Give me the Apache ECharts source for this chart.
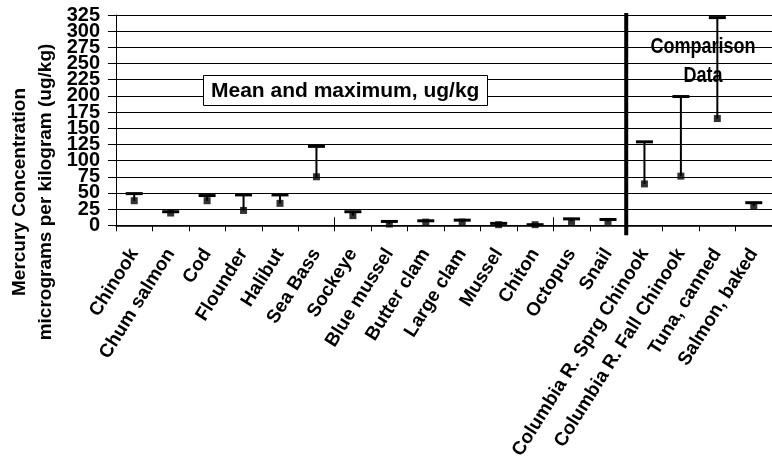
<!DOCTYPE html>
<html>
<head>
<meta charset="utf-8">
<script src="https://cdn.jsdelivr.net/npm/echarts@6/dist/echarts.min.js"></script>
<style>html,body{margin:0;padding:0;background:#fff}#c{width:772px;height:462px}</style>
</head>
<body>
<div id="c"></div>
<script>
const categories = ['Chinook','Chum salmon','Cod','Flounder','Halibut','Sea Bass','Sockeye','Blue mussel','Butter clam','Large clam','Mussel','Chiton','Octopus','Snail','Columbia R. Sprg Chinook','Columbia R. Fall Chinook','Tuna, canned','Salmon, baked'];
const meanValues = [38, 19, 38, 23, 34, 75, 15, 2, 5, 5, 1, 1, 6, 6, 64, 76, 165, 30];
const maxValues  = [49, 21, 46, 47, 47, 122, 21, 6, 7, 8, 3, 1, 10, 9, 129, 199, 321, 35];
const yTicks = {min: 0, max: 325, interval: 25};
const dividerAfterIndex = 13; // boundary between field data and comparison data

const FONT = '"Liberation Sans", Arial, sans-serif';
const chart = echarts.init(document.getElementById('c'), null, {renderer: 'canvas'});

const errData = categories.map((c, i) => [i, meanValues[i], maxValues[i]]);
const meanData = categories.map((c, i) => [i, meanValues[i]]);

// Two label layers on the same value axis so that the tightly packed
// tick labels are not dropped by overlap handling.
function yLabelLayer(parity) {
  return function (v) {
    return (Math.round(v / yTicks.interval) % 2 === parity) ? String(v) : '';
  };
}
const yLabelStyle = {margin: 16, color: '#000', fontFamily: FONT, fontWeight: 'bold', fontSize: 20,
  showMinLabel: true, showMaxLabel: true, hideOverlap: false};

chart.setOption({
  animation: false,
  backgroundColor: '#fff',
  grid: {left: 116, top: 15, width: 665, height: 211, containLabel: false},
  title: [{
    text: 'Mean and maximum, ug/kg',
    left: 203, top: 75,
    backgroundColor: '#fff',
    borderColor: '#000', borderWidth: 1,
    padding: [5, 8, 4, 8],
    textStyle: {fontFamily: FONT, fontWeight: 'bold', fontSize: 21, color: '#000', lineHeight: 22}
  }],
  graphic: [{
    type: 'text',
    rotation: Math.PI / 2,
    x: 33, y: 192,
    style: {
      text: 'Mercury Concentration\nmicrograms per kilogram (ug/kg)',
      font: 'bold 19px ' + FONT,
      fill: '#000',
      align: 'center',
      verticalAlign: 'middle',
      textAlign: 'center',
      textVerticalAlign: 'middle',
      lineHeight: 26
    }
  }, {
    type: 'text',
    x: 703, y: 61,
    scaleX: 0.82,
    z: 10,
    style: {
      text: 'Comparison\nData',
      font: 'bold 22px ' + FONT,
      fill: '#000',
      align: 'center',
      verticalAlign: 'middle',
      textAlign: 'center',
      textVerticalAlign: 'middle',
      lineHeight: 29
    }
  }],
  xAxis: [{
    type: 'category',
    data: categories,
    boundaryGap: true,
    axisLine: {show: true, lineStyle: {color: '#000', width: 1.5}},
    axisTick: {show: true, length: 6, lineStyle: {color: '#000', width: 1}},
    axisLabel: {rotate: 58, interval: 0, margin: 25, color: '#000', fontFamily: FONT, fontWeight: 'bold', fontSize: 19},
    splitLine: {show: false}
  }, {
    type: 'category',
    data: categories,
    position: 'bottom',
    boundaryGap: true,
    axisLine: {show: false},
    axisTick: {show: true, inside: true, length: 8, lineStyle: {color: '#000', width: 1}},
    axisLabel: {show: false},
    splitLine: {show: false}
  }],
  yAxis: [{
    type: 'value',
    position: 'left',
    min: yTicks.min, max: yTicks.max, interval: yTicks.interval,
    axisLine: {show: true, lineStyle: {color: '#000', width: 1}},
    axisTick: {show: true, length: 8, lineStyle: {color: '#000'}},
    axisLabel: Object.assign({formatter: yLabelLayer(0)}, yLabelStyle),
    splitLine: {show: true, lineStyle: {color: '#000', width: 1}}
  }, {
    type: 'value',
    position: 'left',
    offset: 0,
    min: yTicks.min, max: yTicks.max, interval: yTicks.interval,
    axisLine: {show: false},
    axisTick: {show: false},
    axisLabel: Object.assign({formatter: yLabelLayer(1)}, yLabelStyle),
    splitLine: {show: false}
  }],
  series: [{
    type: 'custom',
    name: 'max',
    xAxisIndex: 0, yAxisIndex: 0,
    data: errData,
    z: 3,
    renderItem: function (params, api) {
      const i = api.value(0);
      const lo = api.coord([i, api.value(1)]);
      const hi = api.coord([i, api.value(2)]);
      const half = 8.5;
      return {
        type: 'group',
        children: [{
          type: 'line',
          shape: {x1: lo[0], y1: lo[1], x2: hi[0], y2: hi[1]},
          style: {stroke: '#000', lineWidth: 2}
        }, {
          type: 'line',
          shape: {x1: hi[0] - half, y1: hi[1], x2: hi[0] + half, y2: hi[1]},
          style: {stroke: '#000', lineWidth: 3}
        }]
      };
    }
  }, {
    type: 'scatter',
    name: 'mean',
    xAxisIndex: 0, yAxisIndex: 0,
    data: meanData,
    symbol: 'rect',
    symbolSize: 7,
    itemStyle: {color: '#000'},
    z: 4
  }, {
    type: 'custom',
    name: 'divider',
    xAxisIndex: 0, yAxisIndex: 0,
    data: [[dividerAfterIndex, yTicks.max]],
    z: 5,
    clip: false,
    renderItem: function (params, api) {
      const i = api.value(0);
      const top = api.coord([i, api.value(1)]);
      const bottom = api.coord([i, 0]);
      const bw = api.size([1, 0])[0];
      const x = top[0] + bw / 2;
      return {
        type: 'line',
        shape: {x1: x, y1: top[1] - 2, x2: x, y2: bottom[1] + 10},
        style: {stroke: '#000', lineWidth: 4}
      };
    }
  }]
});
</script>
</body>
</html>
